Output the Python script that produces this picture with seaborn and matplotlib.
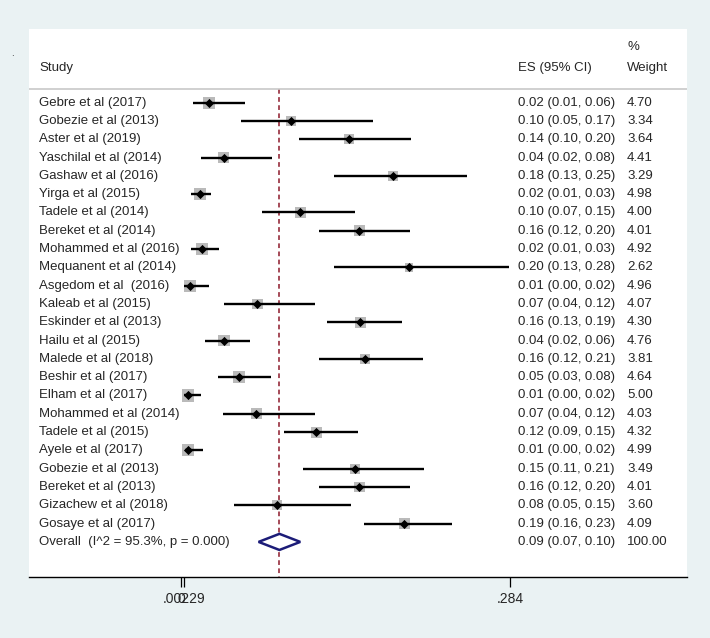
import numpy as np
import pandas as pd
import seaborn as sns
import matplotlib.pyplot as plt
from matplotlib.patches import Polygon

studies = ["Gebre et al (2017)", "Gobezie et al (2013)", "Aster et al (2019)",
           "Yaschilal et al (2014)", "Gashaw et al (2016)", "Yirga et al (2015)",
           "Tadele et al (2014)", "Bereket et al (2014)", "Mohammed et al (2016)",
           "Mequanent et al (2014)", "Asgedom et al  (2016)", "Kaleab et al (2015)",
           "Eskinder et al (2013)", "Hailu et al (2015)", "Malede et al (2018)",
           "Beshir et al (2017)", "Elham et al (2017)", "Mohammed et al (2014)",
           "Tadele et al (2015)", "Ayele et al (2017)", "Gobezie et al (2013)",
           "Bereket et al (2013)", "Gizachew et al (2018)", "Gosaye et al (2017)"]
es = [0.024, 0.095, 0.145, 0.037, 0.183, 0.016, 0.103, 0.154, 0.018, 0.197,
      0.008, 0.066, 0.155, 0.037, 0.159, 0.050, 0.006, 0.065, 0.117, 0.006,
      0.150, 0.154, 0.083, 0.193]
ci_lo = [0.010, 0.052, 0.102, 0.017, 0.132, 0.009, 0.070, 0.119, 0.009, 0.132,
         0.003, 0.037, 0.126, 0.021, 0.119, 0.032, 0.0023, 0.036, 0.089, 0.0035,
         0.105, 0.119, 0.046, 0.158]
ci_hi = [0.055, 0.166, 0.199, 0.079, 0.247, 0.026, 0.150, 0.198, 0.033, 0.283,
         0.024, 0.116, 0.191, 0.060, 0.209, 0.078, 0.017, 0.116, 0.153, 0.019,
         0.210, 0.198, 0.147, 0.234]
es_text = ["0.02 (0.01, 0.06)", "0.10 (0.05, 0.17)", "0.14 (0.10, 0.20)",
           "0.04 (0.02, 0.08)", "0.18 (0.13, 0.25)", "0.02 (0.01, 0.03)",
           "0.10 (0.07, 0.15)", "0.16 (0.12, 0.20)", "0.02 (0.01, 0.03)",
           "0.20 (0.13, 0.28)", "0.01 (0.00, 0.02)", "0.07 (0.04, 0.12)",
           "0.16 (0.13, 0.19)", "0.04 (0.02, 0.06)", "0.16 (0.12, 0.21)",
           "0.05 (0.03, 0.08)", "0.01 (0.00, 0.02)", "0.07 (0.04, 0.12)",
           "0.12 (0.09, 0.15)", "0.01 (0.00, 0.02)", "0.15 (0.11, 0.21)",
           "0.16 (0.12, 0.20)", "0.08 (0.05, 0.15)", "0.19 (0.16, 0.23)"]
weights = [4.70, 3.34, 3.64, 4.41, 3.29, 4.98, 4.00, 4.01, 4.92, 2.62, 4.96, 4.07,
           4.30, 4.76, 3.81, 4.64, 5.00, 4.03, 4.32, 4.99, 3.49, 4.01, 3.60, 4.09]

overall_label = "Overall  (I^2 = 95.3%, p = 0.000)"
overall_es, overall_lo, overall_hi = 0.085, 0.067, 0.103
overall_text = "0.09 (0.07, 0.10)"
overall_weight = "100.00"

xticks = [0, 0.00229, 0.284]
xticklabels = ["0", ".00229", ".284"]

sns.set_theme(style="white")
plt.rcParams["font.family"] = ["Liberation Sans", "DejaVu Sans"]

df = pd.DataFrame({"study": studies, "es": es, "lo": ci_lo, "hi": ci_hi,
                   "weight": weights})
df["row"] = np.arange(len(df))
n = len(df)

W, H = 710, 638
fig = plt.figure(figsize=(W / 100, H / 100), dpi=100)
fig.patch.set_facecolor("#eaf2f3")
ax = fig.add_axes([29 / W, 61 / H, 658 / W, 548 / H])
ax.set_facecolor("white")

# pixel helpers (0 -> 181px, 1158 px per unit; row 0 at 102.7px, 18.3px per row)
def px2x(px):
    return (px - 181) / 1158

def py2row(py):
    return (py - 102.7) / 18.3

ax.set_xlim(px2x(29), px2x(687))
ybot = py2row(577)
ax.set_ylim(ybot, py2row(29))

k = 15
sns.scatterplot(data=df, x="es", y="row", size="weight", sizes=(2.62 * k, 5.0 * k),
                size_norm=(2.62, 5.0), marker="s", color="#bababa", linewidth=0,
                legend=False, ax=ax, zorder=2)
ax.hlines(df["row"], df["lo"], df["hi"], color="black", lw=1.7, zorder=3)
sns.scatterplot(data=df, x="es", y="row", marker="D", color="black", s=22,
                linewidth=0, legend=False, ax=ax, zorder=4)

# overall diamond
dh = 0.44
ax.add_patch(Polygon([(overall_lo, n), (overall_es, n - dh), (overall_hi, n),
                      (overall_es, n + dh)], closed=True, facecolor="white",
                     edgecolor="#1c1c78", lw=1.8, zorder=4))

header_row = py2row(88.7)
ax.axhline(header_row, color="#c8c8c8", lw=1.2)
ax.vlines(overall_es, header_row, ybot, color="#9e3c4a", lw=1.3,
          linestyle=(0, (2.6, 1.9)), zorder=1)

fs = 9.5
for i, s in enumerate(studies):
    ax.text(px2x(39), i, s, fontsize=fs, va="center", ha="left")
    ax.text(px2x(518), i, es_text[i], fontsize=fs, va="center", ha="left")
    ax.text(px2x(627), i, f"{weights[i]:.2f}", fontsize=fs, va="center", ha="left")
ax.text(px2x(39), n, overall_label, fontsize=fs, va="center", ha="left")
ax.text(px2x(518), n, overall_text, fontsize=fs, va="center", ha="left")
ax.text(px2x(627), n, overall_weight, fontsize=fs, va="center", ha="left")

ax.text(px2x(39), py2row(68), "Study", fontsize=fs, va="center", ha="left")
ax.text(px2x(518), py2row(68), "ES (95% CI)", fontsize=fs, va="center", ha="left")
ax.text(px2x(627), py2row(68), "Weight", fontsize=fs, va="center", ha="left")
ax.text(px2x(627), py2row(47), "%", fontsize=fs, va="center", ha="left")
fig.text(11 / W, 1 - 53 / H, ".", fontsize=7, va="center")

for side in ["top", "left", "right"]:
    ax.spines[side].set_visible(False)
ax.spines["bottom"].set_color("black")
ax.spines["bottom"].set_linewidth(1.0)
ax.set_yticks([])
ax.set_xticks(xticks)
ax.set_xticklabels(xticklabels, fontsize=10)
ax.tick_params(axis="x", direction="out", length=7, width=0.9, color="black",
               pad=4, bottom=True)
ax.set_xlabel("")
ax.set_ylabel("")

fig.savefig("out.png", dpi=100, facecolor=fig.get_facecolor())
